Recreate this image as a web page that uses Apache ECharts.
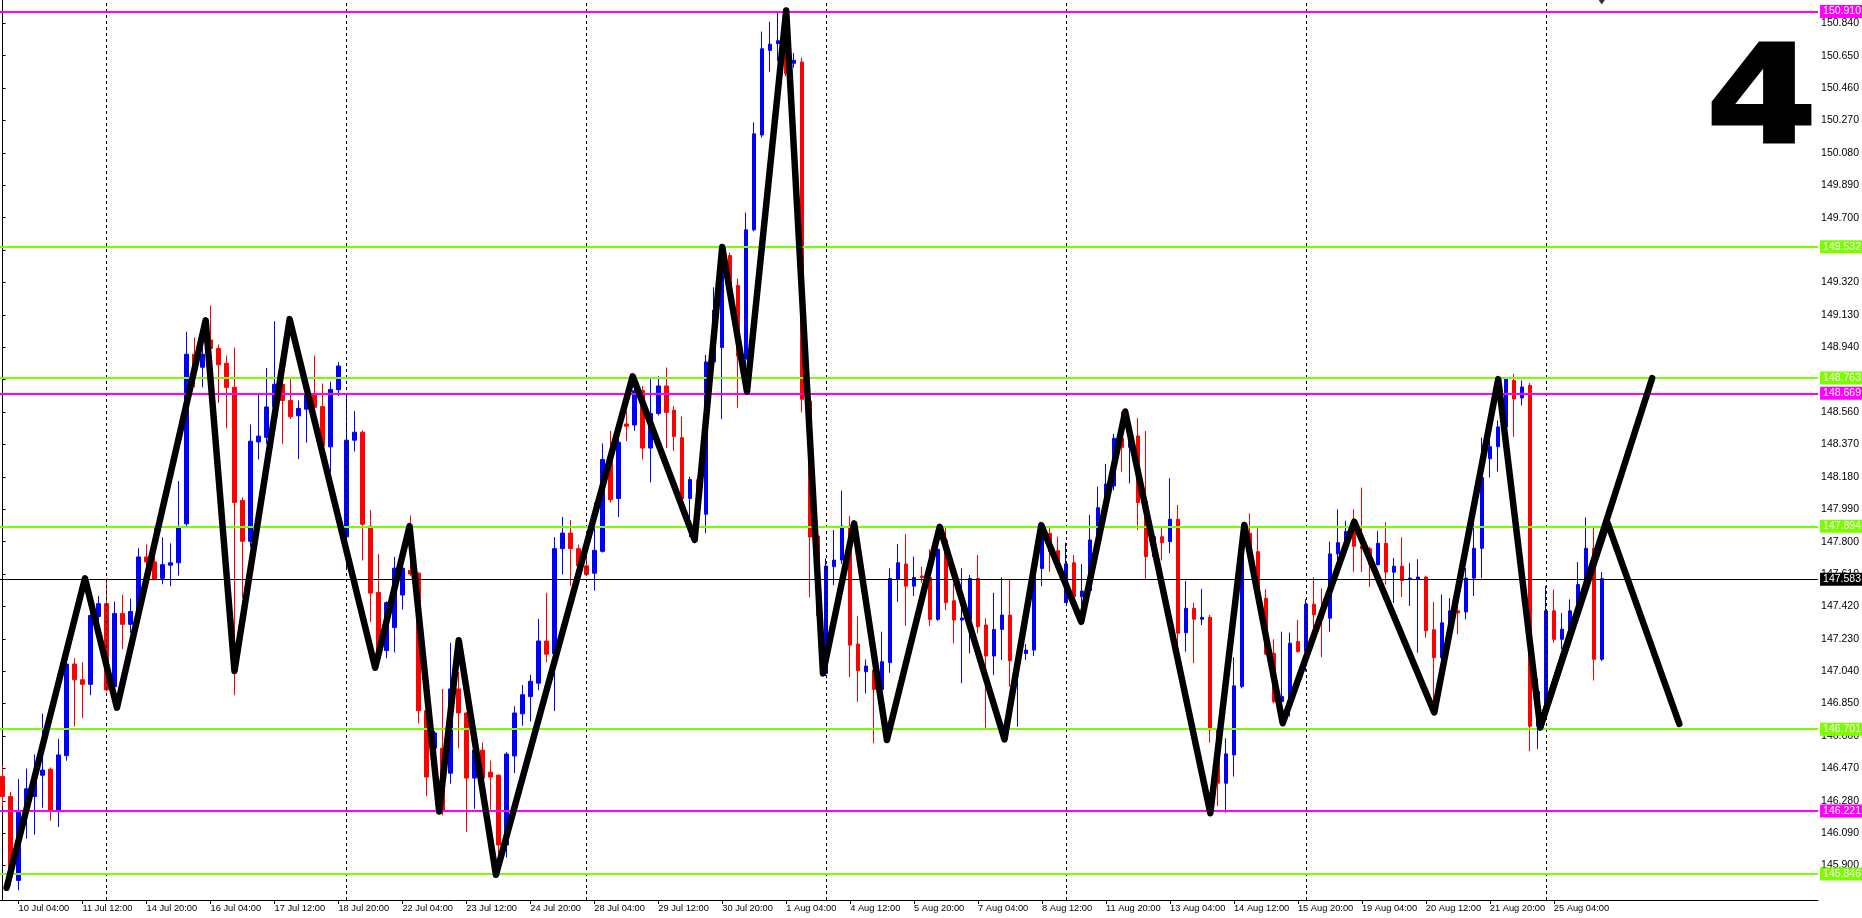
<!DOCTYPE html>
<html><head><meta charset="utf-8">
<script src="https://cdn.jsdelivr.net/npm/echarts@6/dist/echarts.min.js"></script>
<style>html,body{margin:0;padding:0;background:#fff}#c{width:1862px;height:918px}</style>
</head><body><div id="c"></div>
<script>
// ---- H4 candles, bar 0 = 9 Jul 20:00 ... bar 200 = 26 Aug 04:00 ----
const opens = [146.423,146.305,145.813,146.225,146.305,146.430,146.465,146.225,146.545,147.082,
146.990,146.963,147.361,147.436,146.949,147.379,147.315,147.379,147.710,147.681,
147.585,147.662,147.676,147.905,148.899,148.823,148.983,148.933,148.846,148.705,
148.042,147.802,148.385,148.412,148.590,148.723,148.628,148.538,148.577,148.667,
148.592,148.356,148.691,147.828,148.395,148.442,147.891,147.502,147.161,147.296,
147.487,147.631,147.615,146.808,146.588,146.588,146.442,146.936,146.795,146.413,
146.577,146.448,146.430,146.021,146.543,146.790,146.891,146.970,147.217,147.143,
147.759,147.850,147.759,147.658,147.615,147.743,148.282,148.053,148.490,148.484,
148.686,148.349,148.551,148.713,148.571,148.410,148.053,148.164,147.961,148.854,
148.939,149.478,149.303,148.871,149.629,150.185,150.681,150.721,150.707,150.606,
150.613,148.625,147.833,147.027,147.653,147.692,147.891,147.199,147.037,147.047,
146.933,147.090,147.579,147.669,147.539,147.598,147.590,147.344,147.809,147.453,
147.340,147.344,147.584,147.311,147.129,147.285,147.369,147.125,147.144,147.164,
147.643,147.848,147.747,147.442,147.676,147.477,147.513,147.810,147.999,148.127,
148.406,148.353,148.420,148.035,147.712,147.829,147.800,147.931,147.266,147.409,
147.345,147.356,146.696,146.383,146.549,146.950,147.849,147.741,147.468,147.145,
146.862,146.881,147.214,147.155,147.433,147.370,147.351,147.728,147.794,147.884,
147.773,147.758,147.665,147.790,147.621,147.656,147.578,147.578,147.592,147.283,
147.119,147.324,147.394,147.388,147.586,147.761,148.286,148.357,148.473,148.745,
148.643,148.716,146.717,146.834,147.394,147.227,147.286,147.388,147.548,147.761,
147.110];
const closes = [146.305,145.847,146.213,146.350,146.437,146.460,146.225,146.549,147.082,146.990,
146.963,147.367,147.436,146.930,147.379,147.315,147.390,147.710,147.681,147.580,
147.665,147.676,147.889,148.899,148.830,148.899,148.933,148.837,148.705,148.030,
147.802,148.389,148.419,148.590,148.723,148.628,148.532,148.581,148.660,148.588,
148.363,148.693,148.830,148.395,148.442,147.902,147.498,147.116,147.442,147.644,
147.644,147.610,146.808,146.419,146.678,146.217,146.936,146.795,146.413,146.577,
146.413,146.419,146.021,146.554,146.795,146.902,146.981,147.217,147.140,147.759,
147.850,147.759,147.658,147.608,147.749,148.282,148.046,148.383,148.477,148.686,
148.349,148.551,148.713,148.558,148.416,148.053,148.164,148.046,148.854,149.158,
149.495,149.225,148.888,149.629,150.192,150.691,150.718,150.738,150.546,150.623,
148.635,147.827,147.364,147.657,147.692,147.891,147.193,147.043,147.070,146.933,
147.096,147.584,147.676,147.539,147.590,147.590,147.344,147.755,147.442,147.340,
147.352,147.584,147.301,147.129,147.285,147.369,147.101,147.144,147.164,147.594,
147.887,147.741,147.673,147.669,147.477,147.510,147.810,147.999,148.138,148.406,
148.353,148.387,148.029,147.712,147.829,147.794,147.931,147.263,147.409,147.345,
147.356,146.696,146.383,146.555,146.954,147.849,147.741,147.468,147.141,146.862,
146.891,147.204,147.155,147.433,147.370,147.351,147.728,147.794,147.859,147.773,
147.758,147.665,147.790,147.621,147.656,147.572,147.586,147.592,147.277,147.119,
147.324,147.394,147.382,147.586,147.761,148.176,148.357,148.473,148.753,148.637,
148.707,146.717,146.921,147.394,147.227,147.286,147.394,147.548,147.761,147.110,
147.583];
const lows = [146.247,145.780,145.756,146.058,146.081,146.239,146.163,146.126,146.515,146.716,
146.766,146.899,147.333,146.920,146.945,147.169,147.265,147.356,147.630,147.573,
147.550,147.539,147.601,147.886,148.705,148.705,148.922,148.613,148.465,146.899,
147.470,147.767,148.282,148.373,148.588,148.374,148.520,148.284,148.381,148.577,
148.352,148.206,148.655,147.644,148.329,147.689,147.329,147.105,147.116,147.150,
147.401,147.599,146.734,146.307,146.550,146.195,146.381,146.588,146.098,146.233,
146.410,146.228,145.869,145.947,146.442,146.720,146.745,146.929,147.093,146.806,
147.608,147.540,147.641,147.598,147.513,147.736,148.029,147.945,148.390,148.450,
148.282,148.147,148.540,148.349,148.332,148.046,147.827,148.030,147.850,148.821,
148.518,149.208,148.585,148.753,149.620,150.170,150.556,150.620,150.530,150.580,
148.558,147.473,147.320,147.012,147.545,147.670,147.004,146.861,146.910,146.617,
146.920,147.031,147.447,147.305,147.481,147.560,147.305,147.336,147.399,147.203,
146.969,147.145,147.262,146.695,147.017,147.105,146.949,146.714,147.105,147.129,
147.539,147.623,147.620,147.440,147.470,147.320,147.500,147.800,147.947,148.100,
148.210,148.142,147.869,147.579,147.700,147.689,147.732,147.194,147.155,147.087,
147.311,146.621,146.250,146.211,146.422,146.940,147.730,147.460,147.135,146.852,
146.754,146.774,147.150,147.038,147.282,147.122,147.272,147.654,147.780,147.624,
147.621,147.534,147.660,147.548,147.440,147.475,147.423,147.149,147.236,146.833,
147.110,147.300,147.257,147.344,147.481,147.586,148.176,148.211,148.460,148.415,
148.599,146.571,146.585,146.820,147.207,147.169,147.280,147.380,147.540,146.985,
147.100];
const highs = [146.487,146.332,146.407,146.469,146.552,146.791,146.476,146.643,147.095,147.116,
147.093,147.379,147.482,147.585,147.448,147.489,147.466,147.761,147.783,147.893,
147.825,147.790,148.156,149.031,148.997,149.050,149.185,148.956,148.892,148.938,
148.060,148.487,148.670,148.819,149.093,148.756,148.756,148.628,148.768,148.891,
148.727,148.738,148.853,148.666,148.565,148.453,147.986,147.727,147.450,147.711,
147.655,147.954,147.620,146.812,146.690,146.936,147.206,147.037,146.800,146.580,
146.621,146.516,146.435,146.565,146.835,146.959,147.019,147.347,147.500,147.827,
147.945,147.928,147.783,147.827,148.029,148.376,148.450,148.467,148.568,148.753,
148.713,148.753,148.770,148.821,148.595,148.534,148.181,148.180,148.895,149.292,
149.545,149.495,149.343,149.730,150.259,150.792,150.849,150.903,150.926,150.667,
150.640,148.652,147.900,147.702,147.868,148.099,147.950,147.363,147.109,147.066,
147.272,147.643,147.786,147.844,147.712,147.653,147.755,147.888,147.891,147.555,
147.643,147.604,147.721,147.350,147.500,147.590,147.575,147.150,147.200,147.604,
147.897,147.891,147.829,147.794,147.721,147.669,147.957,148.123,148.256,148.432,
148.563,148.420,148.524,148.449,147.840,147.892,148.172,148.015,147.569,147.442,
147.523,147.370,146.700,146.647,147.122,147.888,147.966,147.878,147.521,147.227,
147.272,147.266,147.341,147.462,147.591,147.526,147.800,147.990,147.923,147.990,
148.117,147.770,147.861,147.913,147.703,147.826,147.674,147.697,147.600,147.446,
147.490,147.469,147.470,147.645,147.942,148.409,148.424,148.511,148.759,148.783,
148.745,148.730,146.994,147.540,147.519,147.382,147.461,147.680,147.942,147.890,
147.621];

// ---- axis labels ----
const xTickBars = [2,10,18,26,34,42,50,58,66,74,82,90,98,106,114,122,130,138,146,154,162,170,178,186,194];
const xTickLabels = ['10 Jul 04:00','11 Jul 12:00','14 Jul 20:00','16 Jul 04:00','17 Jul 12:00','18 Jul 20:00',
'22 Jul 04:00','23 Jul 12:00','24 Jul 20:00','28 Jul 04:00','29 Jul 12:00','30 Jul 20:00','1 Aug 04:00',
'4 Aug 12:00','5 Aug 20:00','7 Aug 04:00','8 Aug 12:00','11 Aug 20:00','13 Aug 04:00','14 Aug 12:00',
'15 Aug 20:00','19 Aug 04:00','20 Aug 12:00','21 Aug 20:00','25 Aug 04:00'];
const yTicks = [145.900,146.090,146.280,146.470,146.660,146.850,147.040,147.230,147.420,147.610,147.800,
147.990,148.180,148.370,148.560,148.750,148.940,149.130,149.320,149.510,149.700,149.890,150.080,150.270,
150.460,150.650,150.840];
const weekStartBars = [13,43,73,103,133,163,193];

// ---- zigzag drawing ----
const zigzagBars = [0.5,10.3,14.3,25.4,29.0,35.9,46.6,50.9,54.6,57.05,61.7,78.8,86.55,90.0,93.1,98.0,
102.6,106.5,110.6,117.2,125.3,129.9,134.9,140.4,151.05,155.3,160.1,169.05,179.05,187.05,192.3,200.7,209.7];
const zigzagPrices = [145.77,147.585,146.826,149.098,147.041,149.105,147.060,147.891,146.217,147.222,145.846,
148.770,147.810,149.528,148.679,150.916,147.027,147.907,146.636,147.887,146.640,147.897,147.330,148.563,
146.207,147.898,146.735,147.917,146.798,148.753,146.711,147.913,146.731];
const branchBars = [192.3,206.3];
const branchPrices = [146.711,148.759];

// ---- horizontal levels ----
const greenLevels = [149.532,148.763,147.894,146.701,145.846];
const magentaLevels = [150.910,148.669,146.221];
const bidPrice = 147.583;
const lastBar = 200;

const GREEN = '#7cfc00', MAGENTA = '#ff00ff';
const FONT = '"Liberation Sans Narrow", "Liberation Sans", Tahoma, Arial, sans-serif';
const Y_MIN = 145.698, Y_MAX = 150.977;

const candleData = opens.map((o, i) => [i, o, closes[i], lows[i], highs[i]]);
const tickText = {};
xTickBars.forEach((b, k) => { tickText[b] = xTickLabels[k]; });

function levelItem(v, color, width) {
  return {
    yAxis: v,
    lineStyle: { color: color, width: width, type: 'solid' },
    label: {
      show: true, position: 'end', distance: 2,
      formatter: v.toFixed(3), color: '#fff', backgroundColor: color,
      fontSize: 10.5, fontFamily: FONT, padding: [2, 3, 1, 3], lineHeight: 10
    }
  };
}
const levelData = []
  .concat(greenLevels.map(v => levelItem(v, GREEN, 2)))
  .concat(magentaLevels.map(v => levelItem(v, MAGENTA, 2)))
  .concat([levelItem(bidPrice, '#000', 1)]);

const chart = echarts.init(document.getElementById('c'), null, { renderer: 'canvas' });
chart.setOption({
  animation: false,
  backgroundColor: '#fff',
  grid: { left: 0, right: 43, top: 0, bottom: 18, containLabel: false },
  xAxis: {
    type: 'value', min: -0.325, max: 227.05,
    axisLine: { show: true, onZero: false, lineStyle: { color: '#000', width: 1 } },
    axisTick: { show: true, customValues: xTickBars, length: 4, inside: false, lineStyle: { color: '#000' } },
    axisLabel: {
      show: true, customValues: xTickBars, formatter: v => tickText[Math.round(v)] || '',
      align: 'left', margin: 4, padding: [0, 0, 0, 0], color: '#000', fontSize: 9.3, fontFamily: FONT
    },
    splitLine: { show: false }
  },
  yAxis: {
    type: 'value', position: 'right', min: Y_MIN, max: Y_MAX, scale: true,
    axisLine: { show: true, lineStyle: { color: '#000', width: 1 } },
    axisTick: { show: true, customValues: yTicks, length: 3, inside: false, lineStyle: { color: '#000' } },
    axisLabel: {
      show: true, customValues: yTicks, formatter: v => v.toFixed(3),
      margin: 3, color: '#000', fontSize: 10.5, fontFamily: FONT
    },
    splitLine: { show: false }
  },
  series: [
    {
      type: 'line', data: [], silent: true, z: 1,
      markLine: {
        silent: true, symbol: ['none', 'none'], animation: false,
        data: weekStartBars.map(b => ({ xAxis: b, label: { show: false },
          lineStyle: { color: '#000', width: 1, type: [3, 3] } }))
      }
    },
    {
      type: 'line', data: [], silent: true, z: 2,
      markLine: { silent: true, symbol: ['none', 'none'], animation: false, data: levelData }
    },
    {
      type: 'candlestick', data: candleData, encode: { x: 0, y: [1, 2, 3, 4] },
      barWidth: 4, z: 3, silent: true,
      itemStyle: { color: '#0000ff', color0: '#ff0000', borderColor: '#0000ff', borderColor0: '#ff0000',
        borderColorDoji: '#0000ff', borderWidth: 1 }
    },
    {
      type: 'line', data: zigzagBars.map((b, i) => [b, zigzagPrices[i]]), z: 5, silent: true,
      showSymbol: false, symbol: 'none',
      lineStyle: { color: '#000', width: 6.5, cap: 'round', join: 'round' }
    },
    {
      type: 'line', data: branchBars.map((b, i) => [b, branchPrices[i]]), z: 5, silent: true,
      showSymbol: false, symbol: 'none',
      lineStyle: { color: '#000', width: 6.5, cap: 'round', join: 'round' }
    },
    {
      type: 'scatter', data: [[lastBar, Y_MAX]], z: 6, silent: true,
      symbol: 'triangle', symbolRotate: 180, symbolSize: [7, 5], symbolOffset: [0, 2],
      itemStyle: { color: '#000' }
    }
  ],
  graphic: [{
    type: 'text', x: 1817, y: 39, scaleX: 1.17, z: 100,
    style: { text: '4', font: 'bold 136px "DejaVu Sans", sans-serif', fill: '#000',
      stroke: '#000', lineWidth: 3, textAlign: 'right', textVerticalAlign: 'top' }
  }]
});
</script></body></html>
